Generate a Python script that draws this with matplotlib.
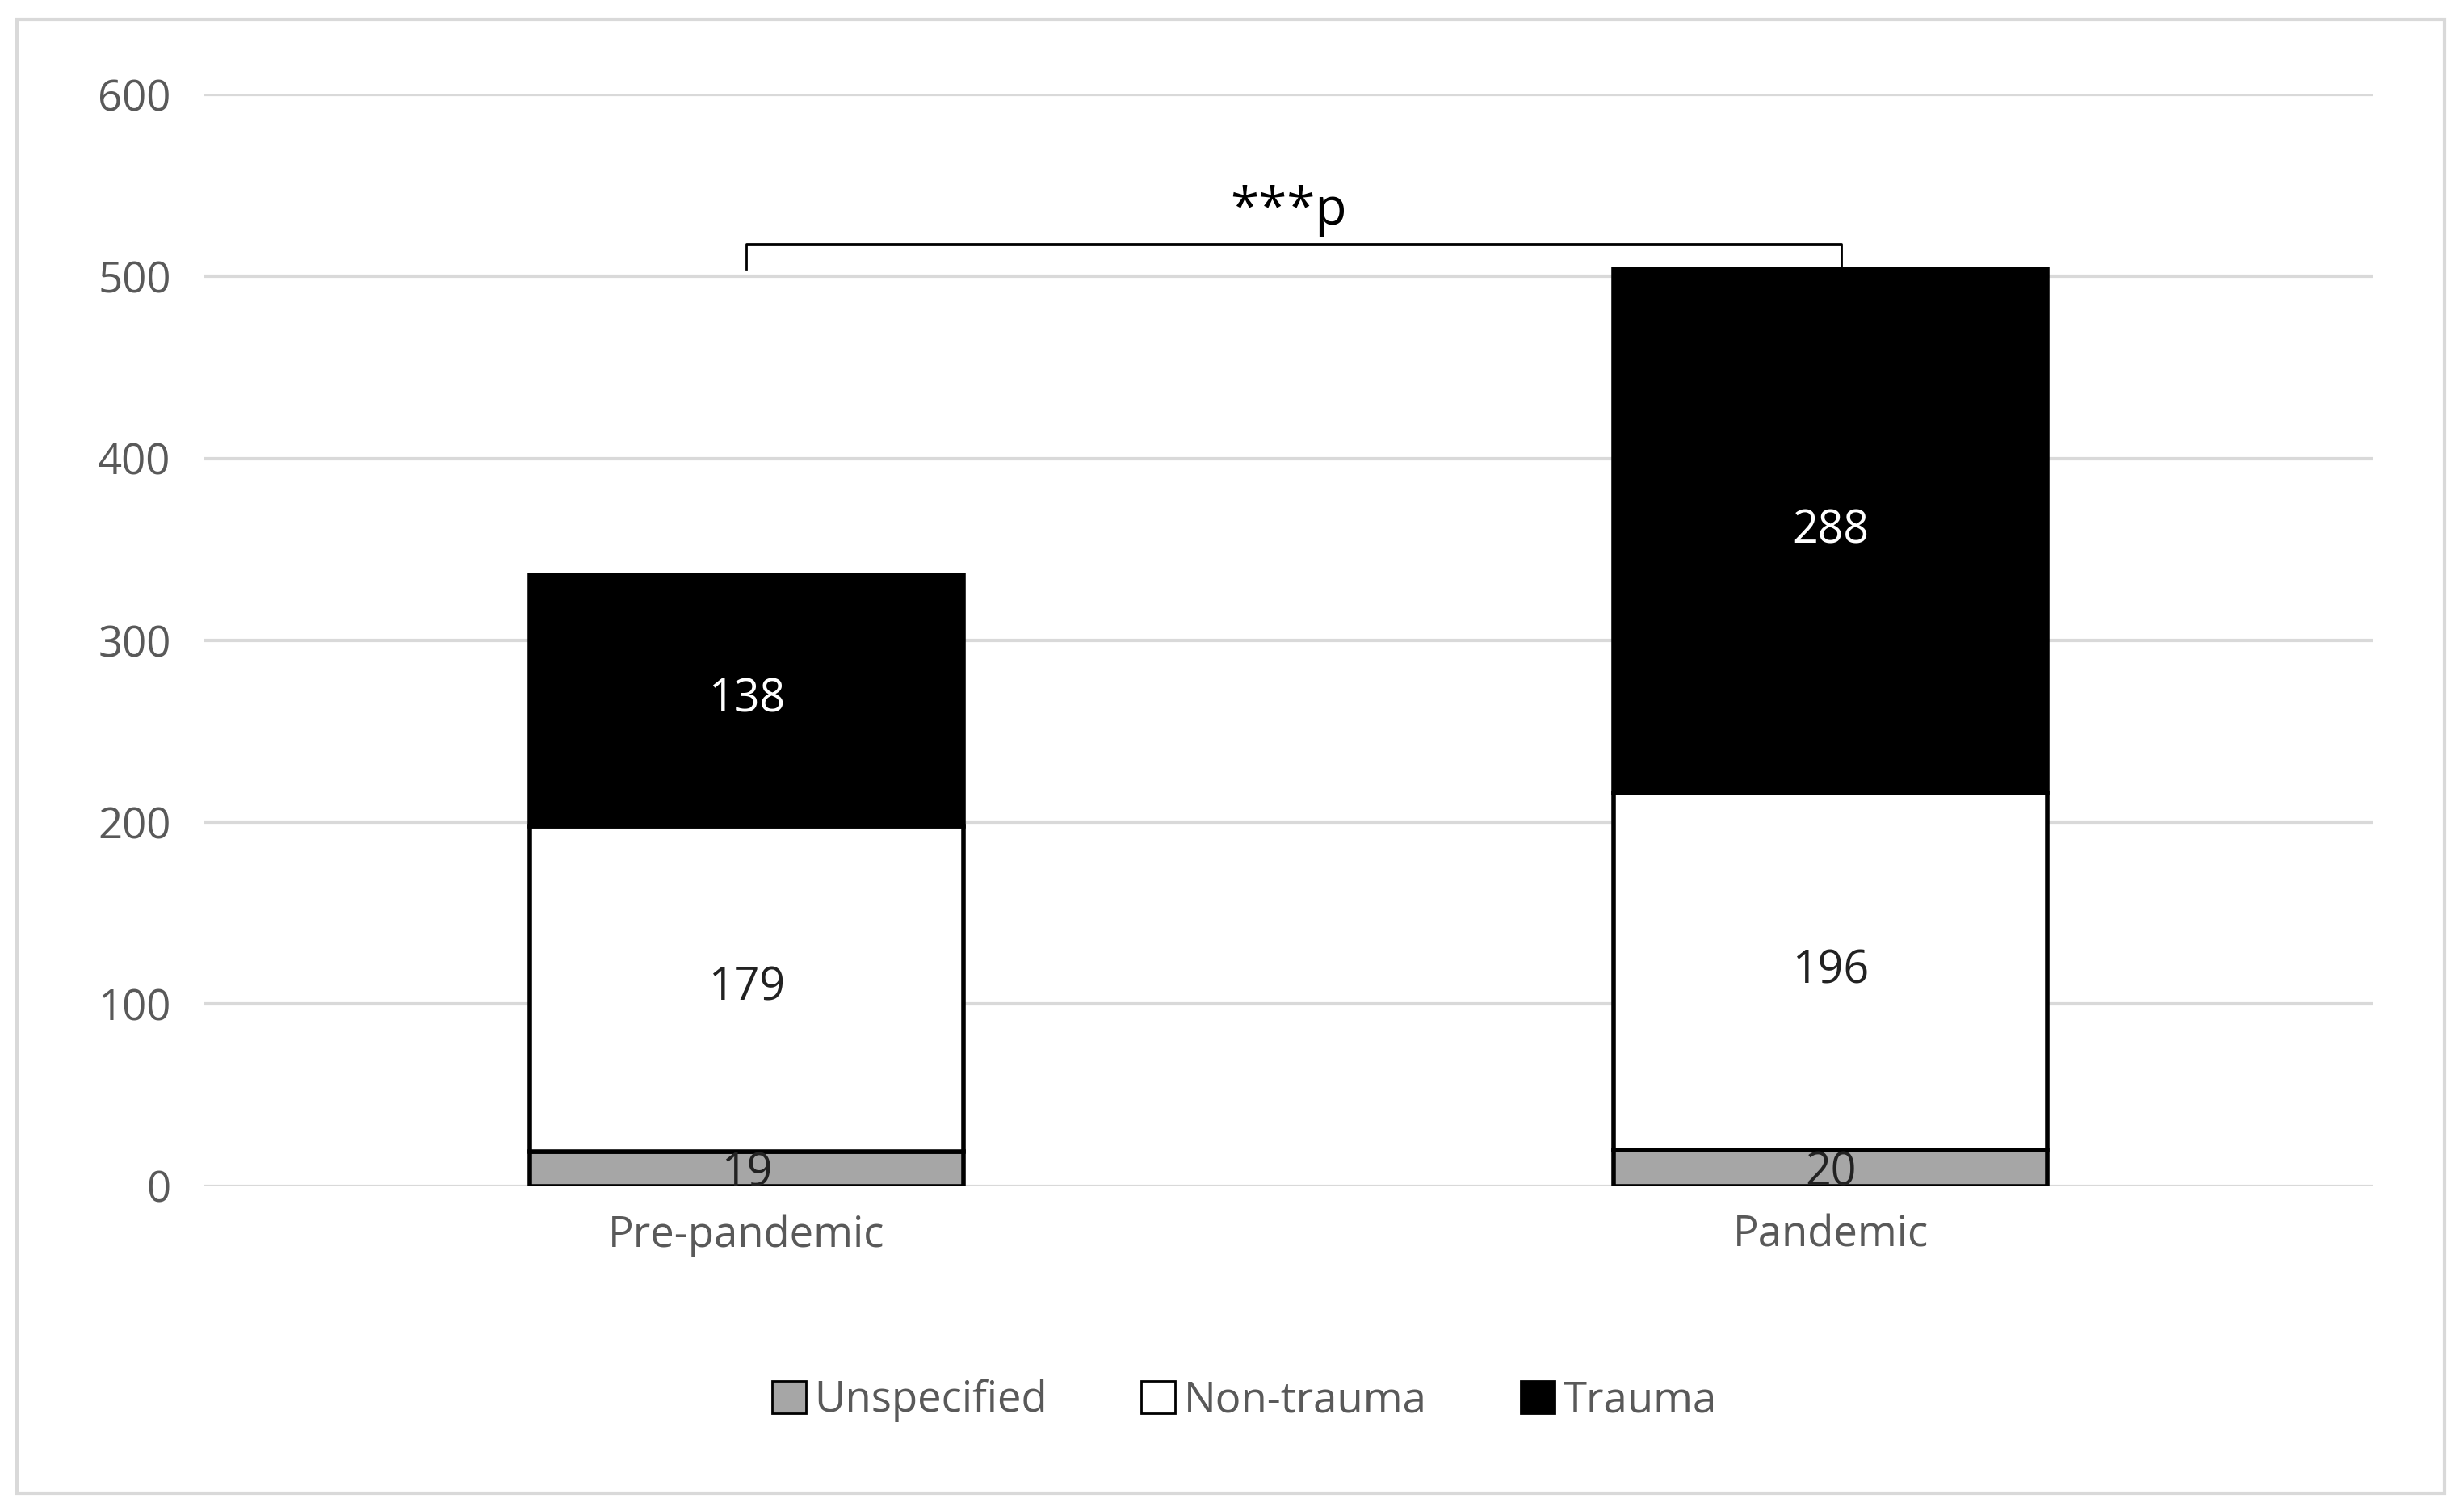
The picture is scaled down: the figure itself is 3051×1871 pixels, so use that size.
import numpy as np
import matplotlib.pyplot as plt
from matplotlib.patches import Rectangle

plt.rcParams['font.family'] = ['Open Sans', 'DejaVu Sans']

categories = ['Pre-pandemic', 'Pandemic']
unspecified = [19, 20]
non_trauma = [179, 196]
trauma = [138, 288]

fig = plt.figure(figsize=(30.51, 18.71), dpi=100)
# outer frame
fig.patches.append(Rectangle((0.007, 0.012), 0.985, 0.975, transform=fig.transFigure,
                             fill=False, edgecolor='#d9d9d9', linewidth=3))
ax = fig.add_axes([0.083, 0.215, 0.88, 0.7225])

x = np.arange(len(categories))
w = 0.4
kw = dict(width=w, edgecolor='black', linewidth=4, zorder=3)
ax.bar(x, unspecified, color='#a6a6a6', label='Unspecified', **kw)
ax.bar(x, non_trauma, bottom=unspecified, color='white', label='Non-trauma', **kw)
bot2 = np.array(unspecified) + np.array(non_trauma)
ax.bar(x, trauma, bottom=bot2, color='black', label='Trauma', **kw)

for i in range(len(categories)):
    ax.text(x[i], unspecified[i] / 2 - 3, str(unspecified[i]), ha='center', va='center',
            fontsize=40, color='#222222', zorder=4)
    ax.text(x[i], unspecified[i] + non_trauma[i] / 2, str(non_trauma[i]), ha='center',
            va='center', fontsize=40, color='#222222', zorder=4)
    ax.text(x[i], bot2[i] + trauma[i] / 2, str(trauma[i]), ha='center', va='center',
            fontsize=40, color='white', zorder=4)

# significance bracket
ax.plot([0, 0, 1.01, 1.01], [504, 518, 518, 504], color='black', linewidth=2, zorder=4)
ax.text(0.5, 522, '***p', ha='center', va='bottom', fontsize=46, color='black')

ax.set_xlim(-0.5, 1.5)
ax.set_ylim(0, 600)
ax.set_yticks(range(0, 601, 100))
ax.set_xticks(x)
ax.set_xticklabels(categories)
ax.grid(axis='y', color='#d9d9d9', linewidth=3, zorder=0)
ax.tick_params(axis='both', length=0, labelsize=38, labelcolor='#595959', pad=25)
ax.tick_params(axis='y', pad=30)
for s in ax.spines.values():
    s.set_visible(False)

leg = fig.legend(loc='center', bbox_to_anchor=(0.505, 0.073), ncol=3, frameon=False,
                 fontsize=38, handlelength=0.8, handleheight=0.8, columnspacing=2.2,
                 handletextpad=0.2)
for h in leg.legend_handles:
    h.set_linewidth(2)
for t in leg.get_texts():
    t.set_color('#595959')

fig.savefig('out.png', dpi=100)
